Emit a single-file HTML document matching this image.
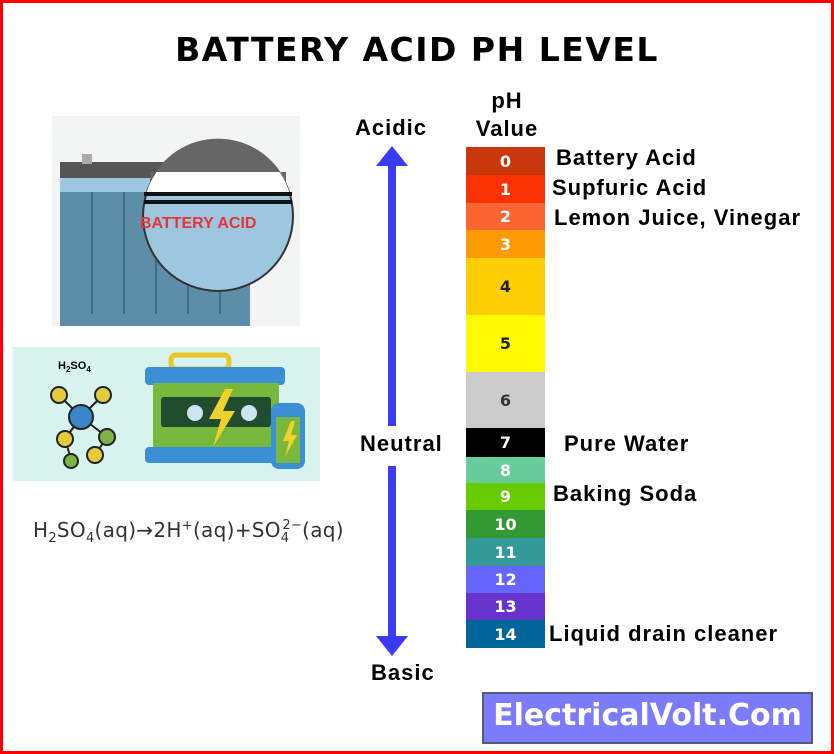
<!DOCTYPE html>
<html><head><meta charset="utf-8"><style>
body{margin:0;width:834px;height:754px;position:relative;background:#fff;font-family:"Liberation Sans",Arial,sans-serif;overflow:hidden}
.a{position:absolute}
.t{position:absolute;font-weight:bold;color:#000;white-space:nowrap;font-size:22px;letter-spacing:1px}
.r{position:absolute;left:466px;width:79px;color:#fff;font-weight:bold;font-size:16px;text-align:center;display:flex;align-items:center;justify-content:center;font-family:"DejaVu Sans",sans-serif}
</style></head><body>
<div class="a" style="left:0;top:0;width:828px;height:748px;border:3px solid #f00"></div>
<div class="t" style="left:0;width:834px;text-align:center;top:30px;font-size:33px;font-family:'DejaVu Sans',sans-serif;letter-spacing:1.5px">BATTERY ACID PH LEVEL</div>

<svg class="a" style="left:52px;top:116px" width="248" height="210">
<rect width="248" height="210" fill="#f3f4f4"/>
<rect x="8" y="46" width="190" height="16" fill="#555"/>
<rect x="8" y="62" width="190" height="150" fill="#5d8ea8"/>
<rect x="8" y="62" width="190" height="14" fill="#9cc7de"/>
<g stroke="#3e6f88" stroke-width="2"><line x1="40" y1="76" x2="40" y2="198"/><line x1="72" y1="76" x2="72" y2="198"/><line x1="104" y1="76" x2="104" y2="198"/><line x1="136" y1="76" x2="136" y2="198"/><line x1="168" y1="76" x2="168" y2="198"/></g>
<rect x="30" y="38" width="10" height="10" fill="#aaa"/>
<circle cx="166" cy="100" r="75" fill="#9cc7de" stroke="#333" stroke-width="2"/>
<path d="M94 78 A75 75 0 0 1 238 78 Z" fill="#fff"/>
<path d="M98 66 A75 75 0 0 1 234 66 L234 56 L98 56Z" fill="#666"/>
<rect x="92" y="76" width="148" height="4" fill="#111"/>
<rect x="92" y="84" width="148" height="4" fill="#111"/>
<text x="88" y="112" font-size="16" font-weight="bold" fill="#e8333a" font-family="Liberation Sans">BATTERY ACID</text>
</svg>

<svg class="a" style="left:13px;top:347px" width="307" height="134">
<rect width="307" height="134" fill="#d6f3ee"/>
<text x="45" y="22" font-size="11" font-weight="bold" font-family="Liberation Sans">H<tspan font-size="8" dy="3">2</tspan><tspan dy="-3">SO</tspan><tspan font-size="8" dy="3">4</tspan></text>
<g stroke="#222" stroke-width="2"><line x1="68" y1="70" x2="46" y2="48"/><line x1="68" y1="70" x2="90" y2="48"/><line x1="68" y1="70" x2="52" y2="92"/><line x1="68" y1="70" x2="94" y2="90"/><line x1="52" y1="92" x2="58" y2="112"/><line x1="94" y1="90" x2="82" y2="108"/></g>
<circle cx="46" cy="48" r="8" fill="#e2cc3c" stroke="#222" stroke-width="2"/><circle cx="90" cy="48" r="8" fill="#e2cc3c" stroke="#222" stroke-width="2"/>
<circle cx="68" cy="70" r="12" fill="#3a84c8" stroke="#222" stroke-width="2"/>
<circle cx="52" cy="92" r="8" fill="#e2cc3c" stroke="#222" stroke-width="2"/><circle cx="94" cy="90" r="8" fill="#7cb342" stroke="#222" stroke-width="2"/>
<circle cx="58" cy="114" r="7" fill="#7cb342" stroke="#222" stroke-width="2"/><circle cx="82" cy="108" r="8" fill="#e2cc3c" stroke="#222" stroke-width="2"/>
<rect x="158" y="8" width="58" height="14" rx="5" fill="none" stroke="#e8c628" stroke-width="5"/>
<rect x="132" y="20" width="140" height="18" rx="4" fill="#3a8fd6"/>
<rect x="140" y="36" width="126" height="70" fill="#78b83c"/>
<rect x="148" y="50" width="110" height="30" rx="3" fill="#1f4d2e"/>
<circle cx="182" cy="66" r="8" fill="#cfe4f2"/><circle cx="236" cy="66" r="8" fill="#cfe4f2"/>
<path d="M212 42 L196 72 L208 72 L200 100 L222 64 L210 64 L220 42Z" fill="#f1d22c"/>
<rect x="132" y="100" width="140" height="16" rx="4" fill="#3a8fd6"/>
<rect x="258" y="56" width="34" height="66" rx="8" fill="#3a8fd6"/>
<rect x="263" y="70" width="24" height="46" fill="#78b83c"/>
<path d="M278 74 L270 94 L276 94 L272 110 L284 88 L278 88 L282 74Z" fill="#f1d22c"/>
</svg>

<div class="a" style="left:33px;top:518px;font-size:20px;letter-spacing:0.3px;color:#333;font-family:'DejaVu Sans',sans-serif;white-space:nowrap">H<sub style="font-size:13px">2</sub>SO<sub style="font-size:13px">4</sub>(aq)→2H<sup style="font-size:13px">+</sup>(aq)+SO<sub style="font-size:13px">4</sub><sup style="font-size:13px;margin-left:-7px">2−</sup>(aq)</div>

<svg class="a" style="left:370px;top:140px" width="50" height="520">
<rect x="18" y="24" width="8" height="262" fill="#3b3bf5"/>
<polygon points="6,26 22,6 38,26" fill="#3b3bf5"/>
<rect x="18" y="326" width="8" height="172" fill="#3b3bf5"/>
<polygon points="6,496 22,516 38,496" fill="#3b3bf5"/>
</svg>
<div class="t" style="left:355px;top:115px">Acidic</div>
<div class="t" style="left:360px;top:431px">Neutral</div>
<div class="t" style="left:371px;top:660px">Basic</div>
<div class="t" style="left:467px;top:87px;text-align:center;line-height:28px;width:80px">pH<br>Value</div>

<div class="r" style="top:147px;height:28px;background:#c8380c">0</div>
<div class="r" style="top:175px;height:28px;background:#fa3204">1</div>
<div class="r" style="top:203px;height:27px;background:#fd6633">2</div>
<div class="r" style="top:230px;height:28px;background:#fd9a02">3</div>
<div class="r" style="top:258px;height:57px;background:#fdce02;color:#222">4</div>
<div class="r" style="top:315px;height:57px;background:#fdfa04;color:#222">5</div>
<div class="r" style="top:372px;height:56px;background:#cbcbcb;color:#333">6</div>
<div class="r" style="top:428px;height:29px;background:#000">7</div>
<div class="r" style="top:457px;height:26px;background:#66cc99">8</div>
<div class="r" style="top:483px;height:27px;background:#66cc00">9</div>
<div class="r" style="top:510px;height:28px;background:#339933">10</div>
<div class="r" style="top:538px;height:28px;background:#339999">11</div>
<div class="r" style="top:566px;height:27px;background:#6666ff">12</div>
<div class="r" style="top:593px;height:27px;background:#6633cc">13</div>
<div class="r" style="top:620px;height:28px;background:#006699">14</div>

<div class="t" style="left:556px;top:145px">Battery Acid</div>
<div class="t" style="left:552px;top:175px">Supfuric Acid</div>
<div class="t" style="left:554px;top:205px">Lemon Juice, Vinegar</div>
<div class="t" style="left:564px;top:431px">Pure Water</div>
<div class="t" style="left:553px;top:481px">Baking Soda</div>
<div class="t" style="left:549px;top:621px">Liquid drain cleaner</div>

<div class="a" style="left:482px;top:692px;width:327px;height:48px;background:#7b7bfb;border:2px solid #555a7a"></div>
<div class="t" style="left:482px;top:698px;width:331px;text-align:center;font-size:30px;letter-spacing:0;color:#fff;font-family:'DejaVu Sans',sans-serif">ElectricalVolt.Com</div>
</body></html>
